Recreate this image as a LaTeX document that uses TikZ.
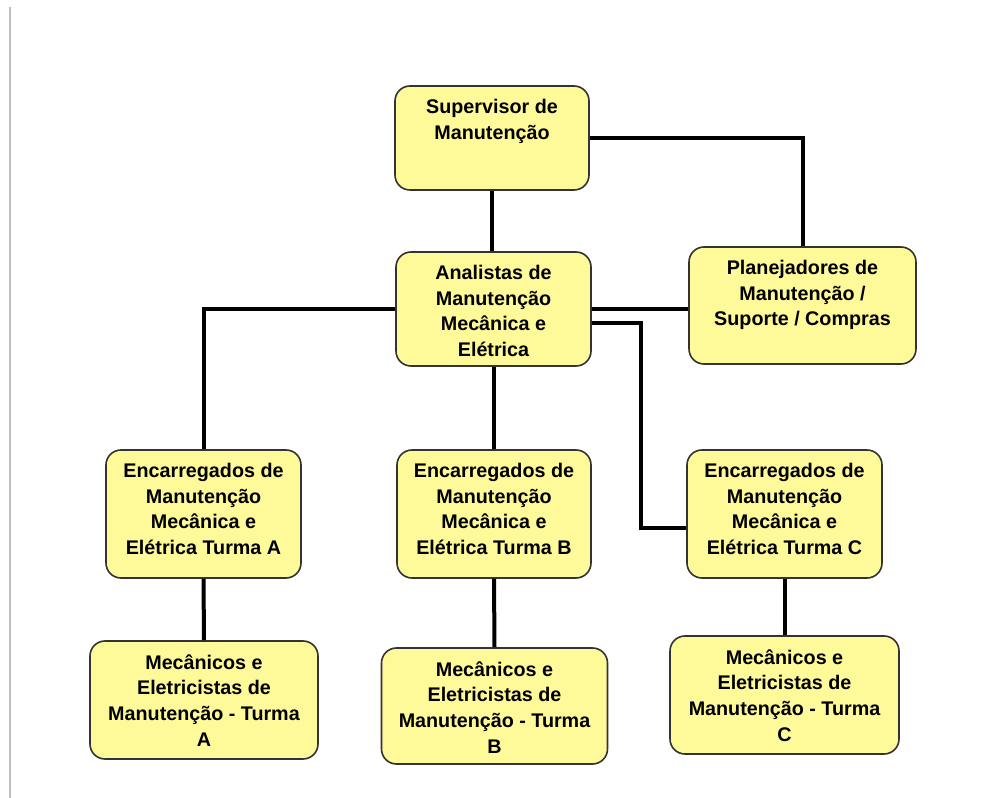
\documentclass[tikz,border=0pt]{standalone}
\usepackage{fontspec}
\setmainfont{Liberation Sans}
\usetikzlibrary{positioning}
\newdimen\pxu
\pxu=0.75pt
\begin{document}
\begin{tikzpicture}
		[	x=0.75pt,y=-0.75pt,
		box/.style={rectangle,rounded corners=15\pxu,draw=black!80,line width=1.6\pxu,fill=yellow!40},
		txt/.style={draw=none,fill=none,inner sep=0pt,align=center,anchor=north,yshift=-14\pxu,
			font=\bfseries\fontsize{14.8}{19.2}\selectfont},
		link/.style={draw=black,line width=4\pxu}
		]
		\useasboundingbox (0,0) rectangle (993,798);
		\draw[black!25,line width=2\pxu] (9.5,7) -- (9.5,798);

		\node[box,minimum width=194\pxu,minimum height=104\pxu] (sup) at (492,138){};
		\node[box,minimum width=195\pxu,minimum height=114\pxu] (ana) at (493.5,309){};
		\node[box,minimum width=227\pxu,minimum height=117\pxu] (plan) at (802.5,305.5){};
		\node[box,minimum width=195\pxu,minimum height=128\pxu] (encA) at (203.5,514){};
		\node[box,minimum width=194\pxu,minimum height=128\pxu] (encB) at (494,514){};
		\node[box,minimum width=195\pxu,minimum height=128\pxu] (encC) at (784.5,514){};
		\node[box,minimum width=228\pxu,minimum height=118\pxu] (mecA) at (204,700){};
		\node[box,minimum width=226\pxu,minimum height=116\pxu] (mecB) at (494.5,706){};
		\node[box,minimum width=229\pxu,minimum height=118\pxu] (mecC) at (784.5,695){};

\node[txt] (supT) at (sup.north){Supervisor de\\Manutenção};
\node[txt] (anaT) at (ana.north){Analistas de\\Manutenção\\Mecânica e\\Elétrica};
\node[txt] (planT) at (plan.north){Planejadores de\\Manutenção /\\Suporte / Compras};
\node[txt] (encAT) at (encA.north){Encarregados de\\Manutenção\\Mecânica e\\Elétrica Turma A};
\node[txt] (encBT) at (encB.north){Encarregados de\\Manutenção\\Mecânica e\\Elétrica Turma B};
\node[txt] (encCT) at (encC.north){Encarregados de\\Manutenção\\Mecânica e\\Elétrica Turma C};
\node[txt] (mecAT) at (mecA.north){Mecânicos e\\Eletricistas de\\Manutenção - Turma\\A};
\node[txt] (mecBT) at (mecB.north){Mecânicos e\\Eletricistas de\\Manutenção - Turma\\B};
\node[txt] (mecCT) at (mecC.north){Mecânicos e\\Eletricistas de\\Manutenção - Turma\\C};

		\draw[link] (sup.south) -- (sup.south |- ana.north);
		\draw[link] (sup.east) -| (plan.north);
		\draw[link] (ana.west) -| (encA.north);
		\draw[link] (ana.east) -- (ana.east -| plan.west);
		\draw[link] ([yshift=-14\pxu]ana.east) -- ++(49,0) |- ([yshift=-14\pxu]encC.west);
		\draw[link] (ana.south) -- (ana.south |- encB.north);
		\draw[link] (encA.south) -- (mecA.north);
		\draw[link] (encB.south) -- (mecB.north);
		\draw[link] (encC.south) -- (mecC.north);
	\end{tikzpicture}
\end{document}
